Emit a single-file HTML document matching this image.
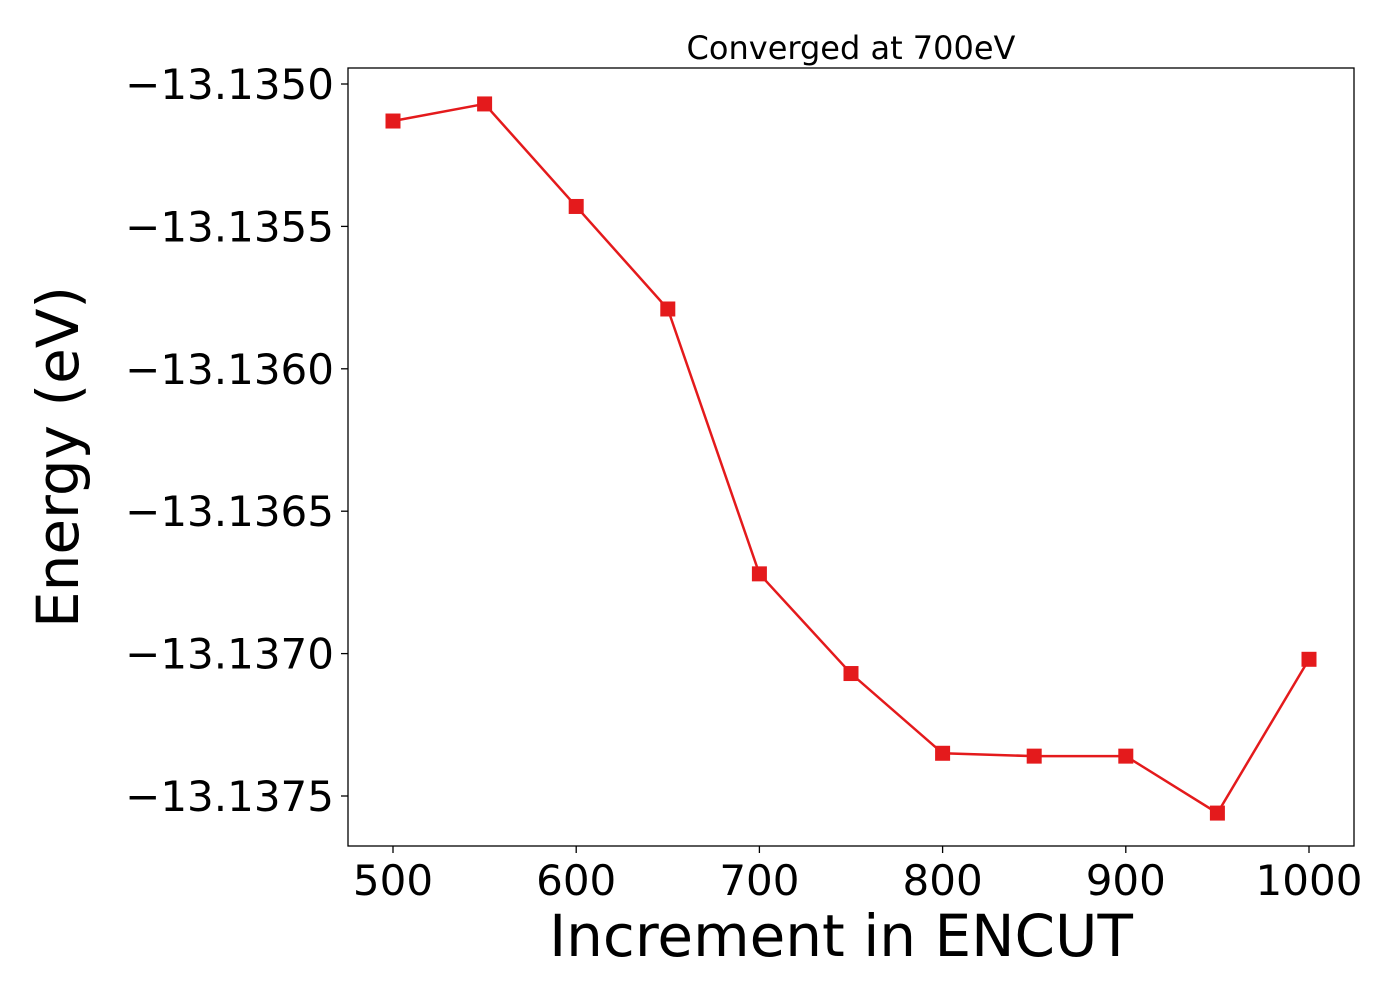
<!DOCTYPE html>
<html><head><meta charset="utf-8"><style>body{margin:0;background:#fff}svg{display:block}text{font-family:"DejaVu Sans","Liberation Sans",sans-serif}</style></head>
<body>
<svg id="chart" width="1400" height="1000" xmlns="http://www.w3.org/2000/svg">
<rect x="0" y="0" width="1400" height="1000" fill="#fff"/>
<text x="851" y="59" font-size="32" text-anchor="middle">Converged at 700eV</text>
<g id="plot"></g>
<rect x="348" y="68" width="1006" height="778" fill="none" stroke="#000" stroke-width="1.3"/>
<text x="841" y="956" font-size="58" text-anchor="middle">Increment in ENCUT</text>
<text transform="translate(78,457) rotate(-90)" font-size="58" text-anchor="middle">Energy (eV)</text>
</svg>
<script>
const xValues = [500,550,600,650,700,750,800,850,900,950,1000];
const energies = [-13.13513,-13.13507,-13.13543,-13.13579,-13.13672,-13.13707,-13.13735,-13.13736,-13.13736,-13.13756,-13.13702];
const xTicks = [500,600,700,800,900,1000];
const yTicks = [-13.1350,-13.1355,-13.1360,-13.1365,-13.1370,-13.1375];
const yTickLabels = ["\u221213.1350","\u221213.1355","\u221213.1360","\u221213.1365","\u221213.1370","\u221213.1375"];
const NS="http://www.w3.org/2000/svg";
const g=document.getElementById('plot');
function xs(v){return 393+(v-500)*(1309-393)/500;}
function ys(v){return 84+(-13.1350-v)*(796-84)/0.0025;}
function mk(t,a){const e=document.createElementNS(NS,t);for(const k in a)e.setAttribute(k,a[k]);g.appendChild(e);return e;}
xTicks.forEach(t=>{
  const l=mk('line',{x1:xs(t),x2:xs(t),y1:846,y2:853,stroke:'#000','stroke-width':1.3});
  
  
  const tx=mk('text',{x:xs(t),y:895,'font-size':42,'text-anchor':'middle'});
  tx.textContent=t;
  
  
});
yTicks.forEach((t,i)=>{
  const l=mk('line',{x1:341,x2:348,y1:ys(t),y2:ys(t),stroke:'#000','stroke-width':1.3});
  
  
  const tx=mk('text',{x:334,y:ys(t)+15,'font-size':42,'text-anchor':'end'});
  tx.textContent=yTickLabels[i];
  
  
});
const pts=xValues.map((x,i)=>xs(x)+','+ys(energies[i])).join(' ');
const line=mk('polyline',{points:pts,fill:'none',stroke:'#e41a1c','stroke-width':2.5});


xValues.forEach((x,i)=>{
  const r=mk('rect',{x:xs(x)-7.5,y:ys(energies[i])-7.5,width:15,height:15,fill:'#e41a1c'});
  
  
});
</script>
</body></html>
